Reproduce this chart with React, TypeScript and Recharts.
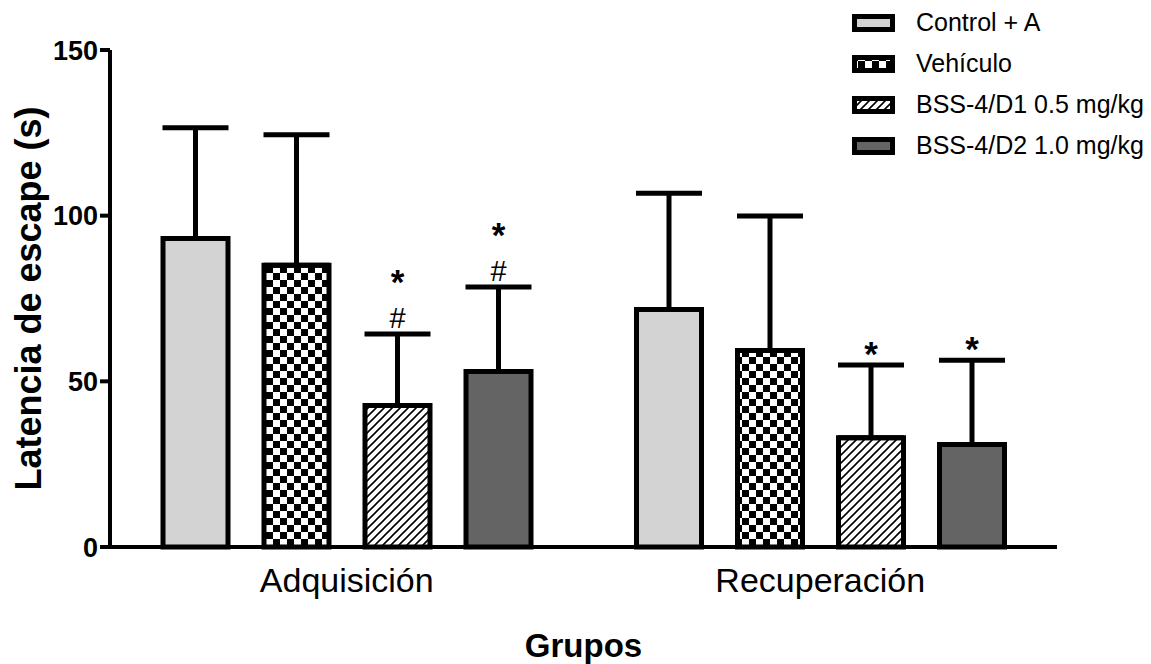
import React from 'react';
import { ComposedChart, Bar, XAxis, YAxis, ErrorBar, LabelList, Legend } from 'recharts';

// grupos del eje X
const categories = ['Adquisición', 'Recuperación'];

// medias y error (solo hacia arriba)
const controlMean = [93.1, 71.7];
const controlErr = [33.4, 35.1];
const vehiculoMean = [85.0, 59.3];
const vehiculoErr = [39.4, 40.6];
const d1Mean = [42.7, 33.0];
const d1Err = [21.6, 21.9];
const d2Mean = [53.0, 30.9];
const d2Err = [25.5, 25.5];

// marcas de significancia
const d1Marks = ['*#', '*'];
const d2Marks = ['*#', '*'];

const yTicks = [0, 50, 100, 150];

const seriesNames = ['Control + A', 'Vehículo', 'BSS-4/D1 0.5 mg/kg', 'BSS-4/D2 1.0 mg/kg'];
const seriesFills = ['#d3d3d3', 'url(#checker)', 'url(#hatch)', '#646464'];

const data = categories.map((name, i) => ({
  name,
  control: controlMean[i],
  controlErr: [0, controlErr[i]],
  vehiculo: vehiculoMean[i],
  vehiculoErr: [0, vehiculoErr[i]],
  d1: d1Mean[i],
  d1Err: [0, d1Err[i]],
  d1Marks: d1Marks[i],
  d2: d2Mean[i],
  d2Err: [0, d2Err[i]],
  d2Marks: d2Marks[i],
}));

const FONT = '"Liberation Sans", Arial, Helvetica, sans-serif';

// dibuja * y # encima de la barra de error
const renderMarks = (means: number[], errs: number[], marks: string[]) => (props: any) => {
  const vb = props.viewBox ?? props;
  const { x, y, width, height } = vb;
  const index = props.index;
  const m = marks[index];
  if (!m) return null;
  const top = y - errs[index] * (height / means[index]);
  const cx = x + width / 2;
  const star = (yy: number) => (
    <text x={cx} y={yy} textAnchor="middle" fontFamily={FONT} fontWeight="bold" fontSize={35} fill="#000">*</text>
  );
  if (m === '*#') {
    return (
      <g>
        {star(top - 40)}
        <text x={cx} y={top - 6} textAnchor="middle" fontFamily={FONT} fontSize={29} fill="#000">#</text>
      </g>
    );
  }
  return <g>{star(top + 1)}</g>;
};

const renderLegend = () => (
  <div style={{ fontFamily: FONT, fontSize: 25, color: '#000' }}>
    {seriesNames.map((n, i) => (
      <div key={n} style={{ display: 'flex', alignItems: 'center', height: 41 }}>
        <svg width={45} height={20} style={{ marginRight: 20 }}>
          <rect x={3.5} y={3.5} width={38} height={13} fill={seriesFills[i]} stroke="#000" strokeWidth={5} />
        </svg>
        <span>{n}</span>
      </div>
    ))}
  </div>
);

export default function App() {
  return (
    <div style={{ position: 'absolute', left: 0, top: 0, width: 1151, height: 664, background: '#fff' }}>
      <ComposedChart
        width={1151}
        height={664}
        data={data}
        margin={{ top: 50, right: 94, bottom: 0, left: 0 }}
        barSize={65}
        barGap={36}
      >
        <defs>
          <pattern id="checker" width="14" height="14" patternUnits="userSpaceOnUse">
            <rect width="14" height="14" fill="#fff" />
            <rect width="7" height="7" fill="#000" />
            <rect x="7" y="7" width="7" height="7" fill="#000" />
          </pattern>
          <pattern id="hatch" width="8" height="8" patternUnits="userSpaceOnUse">
            <rect width="8" height="8" fill="#fff" />
            <path d="M0,8 L8,0 M-2,2 L2,-2 M6,10 L10,6" stroke="#000" strokeWidth={1.6} />
          </pattern>
        </defs>
        <XAxis
          dataKey="name"
          height={117}
          axisLine={{ stroke: '#000', strokeWidth: 4 }}
          tickLine={false}
          tickSize={10}
          tickMargin={11}
          tick={{ fill: '#000', fontSize: 34, fontFamily: FONT }}
          label={{
            value: 'Grupos',
            position: 'insideBottom',
            offset: 7,
            style: { fill: '#000', fontSize: 33, fontWeight: 'bold', fontFamily: FONT },
          }}
        />
        <YAxis
          width={110}
          domain={[0, 150]}
          ticks={yTicks}
          interval={0}
          axisLine={{ stroke: '#000', strokeWidth: 4 }}
          tickLine={{ stroke: '#000', strokeWidth: 4 }}
          tickSize={10}
          tickMargin={2}
          tick={{ fill: '#000', fontSize: 27, fontWeight: 'bold', fontFamily: FONT }}
          label={{
            value: 'Latencia de escape (s)',
            angle: -90,
            position: 'insideLeft',
            offset: 28,
            style: { fill: '#000', fontSize: 36, fontWeight: 'bold', fontFamily: FONT, textAnchor: 'middle' },
          }}
        />
        <Legend
          layout="vertical"
          align="center"
          verticalAlign="middle"
          wrapperStyle={{ left: 851, top: 2, width: 'auto' }}
          content={renderLegend}
        />
        <Bar dataKey="control" name={seriesNames[0]} fill={seriesFills[0]} stroke="#000" strokeWidth={5} isAnimationActive={false}>
          <ErrorBar dataKey="controlErr" direction="y" width={33} stroke="#000" strokeWidth={5} />
        </Bar>
        <Bar dataKey="vehiculo" name={seriesNames[1]} fill={seriesFills[1]} stroke="#000" strokeWidth={5} isAnimationActive={false}>
          <ErrorBar dataKey="vehiculoErr" direction="y" width={33} stroke="#000" strokeWidth={5} />
        </Bar>
        <Bar dataKey="d1" name={seriesNames[2]} fill={seriesFills[2]} stroke="#000" strokeWidth={5} isAnimationActive={false}>
          <ErrorBar dataKey="d1Err" direction="y" width={33} stroke="#000" strokeWidth={5} />
          <LabelList dataKey="d1Marks" content={renderMarks(d1Mean, d1Err, d1Marks)} />
        </Bar>
        <Bar dataKey="d2" name={seriesNames[3]} fill={seriesFills[3]} stroke="#000" strokeWidth={5} isAnimationActive={false}>
          <ErrorBar dataKey="d2Err" direction="y" width={33} stroke="#000" strokeWidth={5} />
          <LabelList dataKey="d2Marks" content={renderMarks(d2Mean, d2Err, d2Marks)} />
        </Bar>
      </ComposedChart>
    </div>
  );
}
